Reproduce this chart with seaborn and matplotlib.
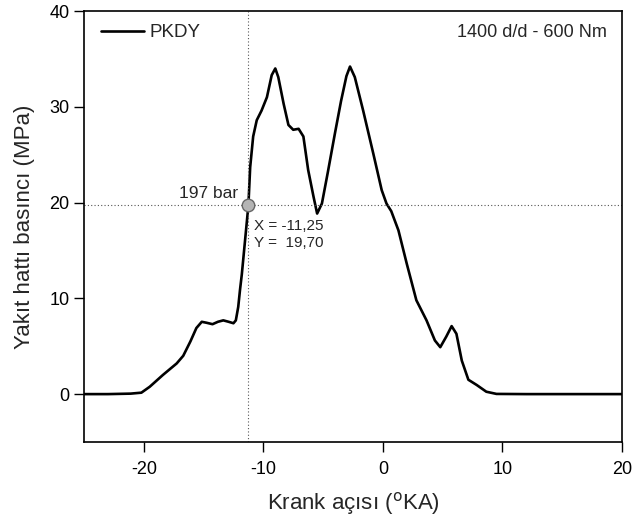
import matplotlib
matplotlib.use("Agg")
import matplotlib.pyplot as plt
import seaborn as sns
import pandas as pd

crank_angle = [-25, -23, -21.1, -20.2, -19.5, -18.4, -17.25, -16.7, -16.1, -15.6, -15.15,
               -14.75, -14.25, -13.8, -13.35, -12.9, -12.5, -12.3, -12.1, -11.95, -11.8,
               -11.25, -11.1, -10.85, -10.55, -10.15, -9.7, -9.3, -9.0, -8.75, -8.3,
               -7.9, -7.5, -7.05, -6.65, -6.25, -5.8, -5.5, -5.1, -4.6, -4.0, -3.5,
               -3.05, -2.75, -2.35, -1.65, -0.8, -0.1, 0.3, 0.7, 1.3, 2.0, 2.8, 3.65,
               4.35, 4.8, 5.3, 5.75, 6.15, 6.6, 7.15, 7.85, 8.65, 9.5, 12, 20]
pressure = [0, 0, 0.05, 0.15, 0.77, 2.0, 3.2, 4.0, 5.5, 6.9, 7.55,
            7.45, 7.3, 7.55, 7.7, 7.55, 7.4, 7.7, 9.1, 10.9, 12.5,
            19.7, 23.7, 26.9, 28.6, 29.6, 31.0, 33.3, 34.0, 33.1, 30.3,
            28.1, 27.6, 27.7, 26.9, 23.4, 20.6, 18.85, 19.9, 23.2, 27.3, 30.6,
            33.2, 34.2, 33.1, 29.6, 25.1, 21.3, 19.9, 19.1, 17.1, 13.6, 9.8, 7.7,
            5.6, 4.9, 6.0, 7.1, 6.3, 3.5, 1.5, 0.95, 0.25, 0.02, 0, 0]

marker_x = -11.25
marker_y = 19.70

df = pd.DataFrame({"Krank": crank_angle, "Basinc": pressure})

sns.set_style("ticks")
plt.rcParams['font.family'] = ['Liberation Sans', 'DejaVu Sans']
plt.rcParams['axes.unicode_minus'] = False

fig = plt.figure(figsize=(6.35, 5.23), dpi=100)
ax = fig.add_axes([84/635, 1 - 442/523, (622-84)/635, (442-11)/523])

sns.lineplot(data=df, x="Krank", y="Basinc", ax=ax, color="black", lw=1.9,
             sort=False, label="PKDY")
ax.lines[0].set_solid_joinstyle("round")

ax.axvline(marker_x, color="#555555", lw=0.8, ls=(0, (1, 2)))
ax.axhline(marker_y, color="#555555", lw=0.8, ls=(0, (1, 2)))
ax.plot([marker_x], [marker_y], marker="o", ms=9, mfc="#b4b4b4", mec="#666666", mew=1, zorder=5)

ax.text(marker_x - 0.85, marker_y + 0.5, "197 bar", ha="right", va="bottom", fontsize=12.5)
ax.text(marker_x + 0.45, marker_y - 2.2, "X = -11,25", ha="left", va="center", fontsize=11)
ax.text(marker_x + 0.45, marker_y - 3.9, "Y =  19,70", ha="left", va="center", fontsize=11)
ax.text(0.972, 0.95, "1400 d/d - 600 Nm", transform=ax.transAxes, ha="right", va="center", fontsize=13)

ax.set_xlim(-25, 20)
ax.set_ylim(-5, 40)
ax.set_xticks([-20, -10, 0, 10, 20])
ax.set_yticks([0, 10, 20, 30, 40])
ax.tick_params(axis="both", labelsize=13, direction="out", length=7, width=1, colors="black")
ax.tick_params(axis="x", pad=7)
ax.set_xlabel("Krank açısı ($^{\\mathrm{o}}$KA)", fontsize=16, labelpad=8)
ax.set_ylabel("Yakıt hattı basıncı (MPa)", fontsize=16, labelpad=10)
for s in ax.spines.values():
    s.set_linewidth(1.2)
    s.set_color("black")

leg = ax.legend(loc="upper left", frameon=False, fontsize=13.5, handlelength=2.25,
                handletextpad=0.3, borderaxespad=0.3, bbox_to_anchor=(0.008, 1.0))

fig.savefig("out.png", dpi=100)
